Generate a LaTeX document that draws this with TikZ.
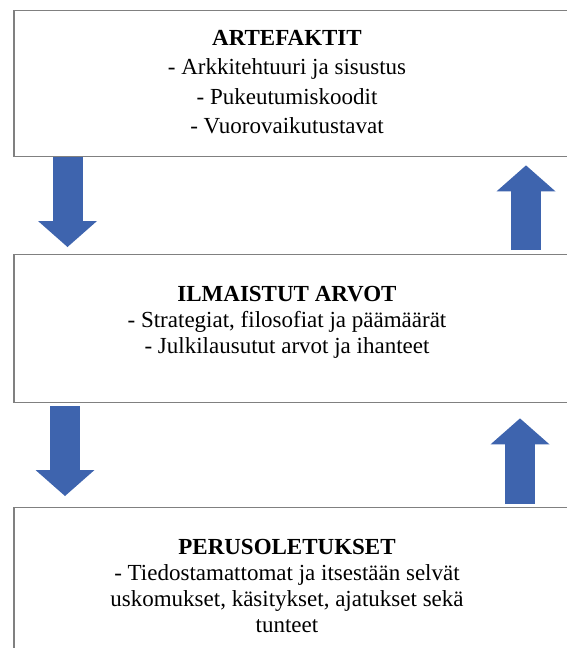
\documentclass[tikz,border=0pt]{standalone}
\usepackage{fontspec}
\setmainfont{Liberation Serif}
\usetikzlibrary{arrows.meta}
\definecolor{arrowblue}{HTML}{3E64AE}
\tikzset{>=stealth,
  box/.style={draw=black!50, line width=1.4pt, rectangle, inner sep=0pt, anchor=north west, minimum width=562pt},
  txt/.style={align=center, inner sep=0pt, anchor=base, font=\fontsize{23}{26}\selectfont},
  blockarrow/.style={draw=arrowblue, line width=30pt, -{Triangle[length=26pt, width=59pt, line width=0pt]}}
}

\begin{document}
\begin{tikzpicture}[x=1pt, y=-1pt]
    \clip (0,0) rectangle (567,648);
    \node[box, minimum height=146pt] (art) at (13.3,10) {};
    \node[box, minimum height=148pt] (arv) at (13.3,254) {};
    \node[box, minimum height=170pt] (per) at (13.3,507) {};
    % base anchor sits on the last line
    \node[txt, font=\fontsize{23}{29.2}\selectfont] (arttxt) at (287,133.3)
        {\textbf{ARTEFAKTIT}\\- Arkkitehtuuri ja sisustus\\- Pukeutumiskoodit\\- Vuorovaikutustavat};
    \node[txt] (arvtxt) at (287,353.7)
        {\textbf{ILMAISTUT ARVOT}\\- Strategiat, filosofiat ja päämäärät\\- Julkilausutut arvot ja ihanteet};
    \node[txt] (pertxt) at (287,632.5)
        {\textbf{PERUSOLETUKSET}\\- Tiedostamattomat ja itsestään selvät\\uskomukset, käsitykset, ajatukset sekä\\tunteet};
    \draw[blockarrow] ([xshift=54.2pt]art.south west) -- ([xshift=54.2pt,yshift=7pt]arv.north west);
    \draw[blockarrow] ([xshift=512.7pt,yshift=4pt]arv.north west) -- ([xshift=512.7pt,yshift=-8pt]art.south west);
    \draw[blockarrow] ([xshift=51.7pt,yshift=-3pt]arv.south west) -- ([xshift=51.7pt,yshift=11pt]per.north west);
    \draw[blockarrow] ([xshift=506.7pt,yshift=3pt]per.north west) -- ([xshift=506.7pt,yshift=-15pt]arv.south west);
\end{tikzpicture}
\end{document}
